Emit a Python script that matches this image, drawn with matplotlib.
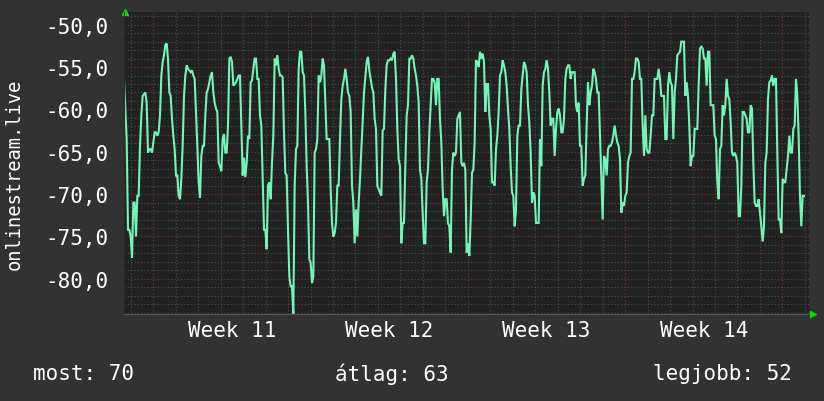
import numpy as np
import matplotlib
matplotlib.use("Agg")
import matplotlib.pyplot as plt

# signal level in dBm, one sample every ~1.42 h
week10_11 = [-56.4, -59.9, -63.5, -74.2, -74.2, -75.0, -77.5, -71.0, -71.0, -75.0,
             -70.2, -70.2, -64.3, -60.7, -58.4, -58.2, -58.0, -59.2, -65.1, -64.7,
             -64.7, -65.1, -63.9, -62.7, -62.7, -63.1, -62.7, -60.7, -56.0, -54.4,
             -53.6, -52.4, -52.2, -54.0, -58.0, -58.4, -61.1, -63.1, -64.7, -67.8,
             -67.8, -70.2, -70.6, -68.2, -64.3, -58.4, -56.0, -54.8, -55.2, -55.4,
             -55.6, -55.4, -56.0, -56.4, -60.3, -64.3, -68.6, -70.4, -65.5, -64.3,
             -64.3, -60.7, -58.0, -57.6, -56.8, -56.0, -55.6, -58.0, -59.2, -59.9,
             -60.3, -66.3, -66.7, -67.3, -63.5, -62.9, -65.1, -65.1, -61.9, -54.0,
             -53.8, -54.4, -57.2]
seg2 = [-57.0, -56.8, -56.4, -56.0, -56.0, -61.9, -67.8, -65.7, -68.0, -66.3,
        -63.1, -63.5, -56.8, -56.6, -55.2, -54.0, -54.0, -56.4, -56.4, -60.7,
        -61.9, -68.2, -74.2, -74.2, -76.5, -69.0, -68.6, -70.6, -66.3, -63.1,
        -54.0, -54.8, -53.6, -55.2, -56.0, -56.0, -56.2, -62.7, -67.5, -67.8,
        -74.2, -79.7, -80.9, -80.9, -84.1, -69.0, -64.7, -64.3, -55.2, -53.2,
        -53.2, -55.6, -56.0, -60.3, -66.7, -71.0, -77.7, -78.1, -80.5, -79.7,
        -65.1, -64.7, -63.5, -56.0, -56.8, -56.0, -54.0, -54.8, -59.2, -63.5,
        -63.5, -63.5, -69.4, -73.4, -75.0, -74.6, -73.4, -69.0, -69.0, -63.5,
        -58.8, -57.2, -56.4, -55.2, -56.4, -58.0]
seg3 = [-58.4, -60.3, -69.0, -71.0, -75.8, -71.8, -75.0, -71.0, -68.2, -64.7,
        -61.5, -58.0, -56.2, -54.4, -53.8, -55.4, -56.4, -57.4, -58.0, -61.1,
        -62.3, -69.0, -69.4, -69.8, -70.2, -62.5, -62.3, -57.6, -54.8, -54.2,
        -54.2, -54.0, -54.2, -53.4, -53.2, -56.4, -62.3, -65.9, -66.7, -75.8,
        -73.4, -73.4, -66.7, -60.7, -59.5, -54.0, -54.0, -53.6, -54.0, -55.2,
        -56.0, -57.2, -59.2, -67.1, -68.2, -72.2, -75.8, -75.8, -68.6, -67.1,
        -62.7, -59.5, -56.4, -56.4, -56.8, -59.5, -56.4, -56.4, -61.1, -63.9,
        -69.4, -72.6, -70.6, -70.6, -73.4, -73.8, -76.9, -67.1, -65.1, -65.5,
        -65.1, -61.1, -60.7, -60.3, -66.3, -66.7]
seg4 = [-66.3, -67.1, -76.9, -75.8, -77.3, -73.0, -67.5, -67.1, -63.9, -54.2,
        -54.4, -55.0, -53.2, -54.0, -53.4, -54.4, -60.3, -57.0, -57.0, -60.7,
        -62.3, -68.6, -68.6, -69.0, -64.7, -63.1, -60.3, -56.0, -55.6, -54.2,
        -54.8, -55.6, -57.2, -59.9, -62.3, -66.7, -69.8, -70.2, -73.8, -71.8,
        -63.1, -61.9, -61.9, -57.6, -56.0, -54.4, -54.8, -55.6, -59.5, -61.5,
        -65.1, -71.0, -69.8, -70.2, -73.4, -73.4, -73.4, -63.5, -66.7, -57.2,
        -55.6, -55.2, -54.2, -55.2, -58.0, -61.9, -61.1, -61.1, -65.5, -62.3,
        -60.3, -59.9, -60.7, -62.7, -62.7, -61.1, -56.4, -55.2, -54.8, -54.8,
        -56.4, -55.6, -55.6, -55.6, -59.5, -60.3]
seg5 = [-59.2, -64.3, -64.3, -69.0, -68.2, -67.8, -61.9, -56.8, -59.5, -58.0,
        -57.2, -55.2, -55.6, -56.4, -58.0, -58.0, -63.1, -68.2, -73.0, -65.5,
        -65.9, -67.8, -64.7, -64.3, -64.3, -63.9, -63.1, -61.9, -63.1, -63.9,
        -64.3, -65.9, -72.2, -71.0, -71.4, -70.2, -69.8, -66.3, -65.5, -65.1,
        -56.4, -56.4, -55.6, -54.0, -54.0, -54.4, -56.4, -56.4, -61.9, -65.5,
        -60.7, -64.7, -65.1, -65.1, -63.1, -60.7, -60.7, -56.4, -56.4, -56.4,
        -55.2, -56.4, -58.4, -58.4, -58.4, -63.5, -63.5, -57.2, -55.6, -56.8,
        -57.2, -63.5, -58.0, -56.4, -53.6, -53.4, -53.2, -52.0, -52.0, -52.0,
        -58.4, -56.8, -58.4, -61.9, -66.7, -65.5]
seg6 = [-65.5, -62.3, -62.3, -62.3, -57.2, -52.8, -52.6, -52.8, -54.0, -54.0,
        -57.2, -53.2, -53.2, -59.5, -59.5, -59.5, -63.1, -63.5, -68.6, -70.6,
        -64.7, -64.3, -59.5, -60.7, -59.5, -56.4, -58.4, -58.8, -61.5, -65.1,
        -65.5, -65.1, -65.5, -66.3, -72.6, -72.6, -69.0, -60.3, -60.3, -60.7,
        -61.1, -62.7, -62.7, -59.5, -59.9, -66.3, -71.0, -71.4, -71.4, -70.6,
        -72.2, -73.8, -75.6, -73.8, -66.3, -65.1, -58.8, -56.8, -56.6, -56.0,
        -57.2, -56.4, -56.4, -65.1, -73.0, -73.0, -74.6, -68.2, -68.6, -68.6,
        -67.1, -65.5, -63.1, -65.1, -65.1, -62.3, -61.9, -56.4, -58.4, -63.1,
        -70.2, -73.8, -70.2, -70.2]

signal = np.array(week10_11 + seg2 + seg3 + seg4 + seg5 + seg6)
# hours relative to Monday 00:00 of week 11
t_start = -31.2
t_step = 1.424
hours = t_start + np.arange(len(signal)) * t_step

week_labels = ["Week 11", "Week 12", "Week 13", "Week 14"]
y_labels = [-50, -55, -60, -65, -70, -75, -80]
stat_now, stat_avg, stat_best = 70, 63, 52

BACK = "#323232"
CANVAS = "#222222"
LINE = "#72f5b6"
MONO = "DejaVu Sans Mono"

fig = plt.figure(figsize=(8.24, 4.02), dpi=100, facecolor=BACK)
ax = fig.add_axes([124 / 824, 87 / 402, 685 / 824, 302 / 402])
ax.set_facecolor(CANVAS)

ax.set_xlim(-31.2, 700.4)
ax.set_ylim(-84.15, -48.5)

ax.set_yticks(y_labels)
ax.set_yticks(np.arange(-84, -48), minor=True)
ax.set_xticks(np.arange(0, 701, 168))
ax.set_xticks(np.arange(-24, 701, 24), minor=True)
ax.set_yticklabels([f"{v:.1f}".replace(".", ",") for v in y_labels],
                   family=MONO, fontsize=15, color="white")
ax.set_xticklabels([])
ax.tick_params(axis="both", which="both", length=0)
ax.tick_params(axis="y", pad=11)

ax.grid(True, which="minor", color="#4e4e4e", linestyle=(0, (1, 2)), linewidth=0.8)
ax.grid(True, which="major", color="#7a3434", linestyle=(0, (1, 2)), linewidth=0.8)
ax.set_axisbelow(True)

for side in ["top", "right"]:
    ax.spines[side].set_visible(False)
ax.spines["left"].set_color("#2a2a2a")
ax.spines["bottom"].set_color("#555555")

ax.plot(hours, signal, color=LINE, linewidth=1.5, solid_joinstyle="miter")

# week labels centered in the middle of each week
for i, lab in enumerate(week_labels):
    ax.text(84 + 168 * i, -0.053, lab, transform=ax.get_xaxis_transform(),
            ha="center", va="center", family=MONO, fontsize=15, color="white")

# green axis arrows
ax.plot([0.002], [1.0], marker="^", markersize=5, color="#00e000",
        transform=ax.transAxes, clip_on=False)
ax.plot([1.006], [0.0], marker=">", markersize=5, color="#00e000",
        transform=ax.transAxes, clip_on=False)

fig.text(0.017, 0.565, "onlinestream.live", rotation=90, ha="center", va="center",
         family=MONO, fontsize=13.5, color="white")

fig.text(33 / 824, 0.07, f"most: {stat_now}", ha="left", va="center",
         family=MONO, fontsize=15, color="white")
fig.text(392 / 824, 0.07, f"átlag: {stat_avg}", ha="center", va="center",
         family=MONO, fontsize=15, color="white")
fig.text(792 / 824, 0.07, f"legjobb: {stat_best}", ha="right", va="center",
         family=MONO, fontsize=15, color="white")

fig.savefig("out.png", dpi=100, facecolor=BACK)
